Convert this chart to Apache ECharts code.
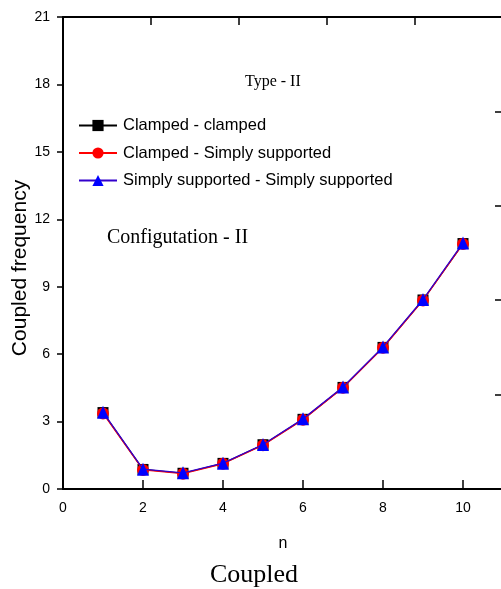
<!DOCTYPE html>
<html>
<head>
<meta charset="utf-8">
<script src="https://cdn.jsdelivr.net/npm/echarts@6/dist/echarts.min.js"></script>
<style>
html,body{margin:0;padding:0;background:#fff;}
#c{width:501px;height:589px;}
</style>
</head>
<body>
<div id="c"></div>
<script>
var nValues = [1, 2, 3, 4, 5, 6, 7, 8, 9, 10];
var clampedClamped = [3.4, 0.87, 0.7, 1.14, 1.97, 3.1, 4.52, 6.3, 8.41, 10.92];
var clampedSimply = [3.36, 0.85, 0.68, 1.12, 1.95, 3.08, 4.5, 6.28, 8.39, 10.9];
var simplySimply = [3.42, 0.88, 0.72, 1.15, 1.98, 3.12, 4.54, 6.32, 8.43, 10.95];
var seriesNames = ['Clamped - clamped', 'Clamped - Simply supported', 'Simply supported - Simply supported'];
var yTicks = [0, 3, 6, 9, 12, 15, 18, 21];
var xTicks = [0, 2, 4, 6, 8, 10];

function pairs(ys) { return nValues.map(function (n, i) { return [n, ys[i]]; }); }

var axisFont = '"Liberation Sans Narrow", "Liberation Sans", Arial, sans-serif';
var chart = echarts.init(document.getElementById('c'), null, {renderer: 'canvas'});
chart.setOption({
  animation: false,
  backgroundColor: '#fff',
  grid: {left: 63, top: 17, width: 440, height: 472, containLabel: false, outerBoundsMode: 'none'},
  legend: {
    orient: 'vertical', left: 78, top: 117, padding: 0,
    itemWidth: 38, itemHeight: 14, itemGap: 10.5,
    textStyle: {fontFamily: 'Arial, "Liberation Sans", sans-serif', fontSize: 16.5, color: '#000', padding: [0, 0, 0, 1]},
    data: seriesNames
  },
  xAxis: [{
    type: 'value', min: 0, max: 11, interval: 2, position: 'bottom',
    axisLine: {onZero: false, lineStyle: {color: '#000', width: 2}},
    axisTick: {inside: true, length: 9, lineStyle: {color: '#000', width: 1.5}},
    axisLabel: {color: '#000', fontSize: 14, fontFamily: axisFont, margin: 12,
      formatter: function (v) { return xTicks.indexOf(v) >= 0 ? String(v) : ''; }},
    splitLine: {show: false},
    name: 'n', nameLocation: 'middle', nameGap: 47,
    nameTextStyle: {color: '#000', fontSize: 16, fontFamily: 'Arial, "Liberation Sans", sans-serif'}
  }, {
    type: 'value', min: 0, max: 5, interval: 1, position: 'top',
    axisLine: {onZero: false, lineStyle: {color: '#000', width: 2}},
    axisTick: {inside: true, length: 8, lineStyle: {color: '#000', width: 1.5}},
    axisLabel: {show: false}, splitLine: {show: false}
  }],
  yAxis: [{
    type: 'value', min: 0, max: 21, interval: 3, position: 'left',
    axisLine: {onZero: false, lineStyle: {color: '#000', width: 2}},
    axisTick: {inside: false, length: 6, lineStyle: {color: '#000', width: 1.5}},
    axisLabel: {color: '#000', fontSize: 14, fontFamily: axisFont, margin: 13,
      formatter: function (v) { return yTicks.indexOf(v) >= 0 ? String(v) : ''; }},
    splitLine: {show: false}
  }, {
    type: 'value', min: 0, max: 5, interval: 1, position: 'right',
    axisLine: {show: true, onZero: false, lineStyle: {color: '#000', width: 2}},
    axisTick: {inside: true, length: 8, lineStyle: {color: '#000', width: 1.5}},
    axisLabel: {show: false}, splitLine: {show: false}
  }],
  series: [{
    name: seriesNames[0], type: 'line', data: pairs(clampedClamped),
    symbol: 'rect', symbolSize: 11,
    itemStyle: {color: '#000'}, lineStyle: {color: '#000', width: 1.2}, z: 2
  }, {
    name: seriesNames[1], type: 'line', data: pairs(clampedSimply),
    symbol: 'circle', symbolSize: 12,
    itemStyle: {color: '#ff0000'}, lineStyle: {color: '#ff0000', width: 1.2}, z: 3
  }, {
    name: seriesNames[2], type: 'line', data: pairs(simplySimply),
    symbol: 'triangle', symbolSize: [12, 13],
    itemStyle: {color: '#0000ff'}, lineStyle: {color: '#3300cc', width: 1.3}, z: 4
  }],
  graphic: [{
    type: 'text', left: 245, top: 74,
    style: {text: 'Type - II', font: '16px "Liberation Serif", "Times New Roman", serif', fill: '#000'}
  }, {
    type: 'text', left: 107, top: 228,
    style: {text: 'Configutation - II', font: '20px "Liberation Serif", "Times New Roman", serif', fill: '#000'}
  }, {
    type: 'text', left: 210, top: 562,
    style: {text: 'Coupled', font: '26px "Liberation Serif", "Times New Roman", serif', fill: '#000'}
  }, {
    type: 'text', x: 20, y: 268, rotation: Math.PI / 2,
    style: {text: 'Coupled frequency', font: '21px Arial, "Liberation Sans", sans-serif', fill: '#000',
      align: 'center', verticalAlign: 'middle'}
  }]
});
</script>
</body>
</html>
